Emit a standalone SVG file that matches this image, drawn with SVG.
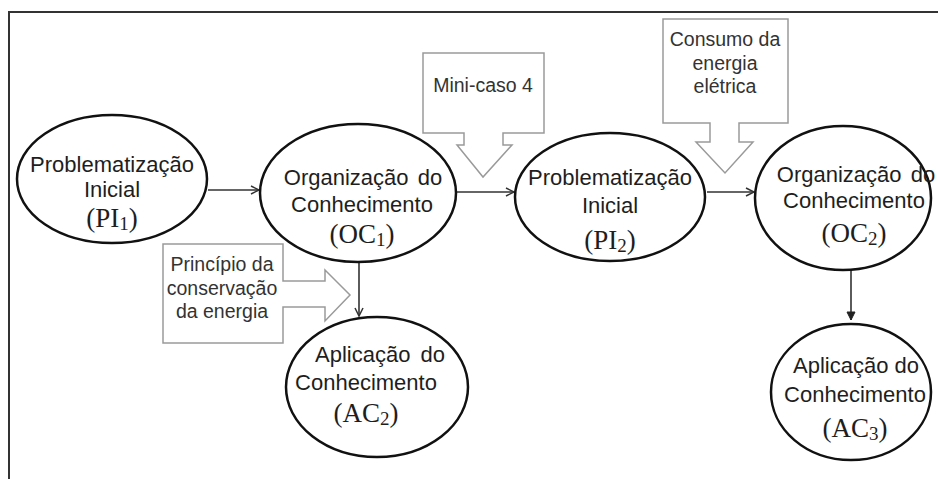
<svg xmlns="http://www.w3.org/2000/svg" width="938" height="479" viewBox="0 0 938 479">
<style>
.node{fill:#fff;stroke:#111;stroke-width:2.5}
.t{font-family:"Liberation Sans",Arial,sans-serif;font-size:22px;fill:#1e1e1e;text-anchor:middle}
.m{font-family:"Liberation Serif","DejaVu Serif",serif;font-size:27px;fill:#1e1e1e;text-anchor:middle}
.c{fill:#fff;stroke:#9a9a9a;stroke-width:1.5}
.ct{font-family:"Liberation Sans",Arial,sans-serif;font-size:19.5px;fill:#333;text-anchor:middle}
.e{fill:none;stroke:#333;stroke-width:1.6}
</style>
<defs>
<marker id="open" markerWidth="12" markerHeight="12" refX="9" refY="5" orient="auto" markerUnits="userSpaceOnUse">
<path d="M1,1 L9,5 L1,9" fill="none" stroke="#333" stroke-width="1.5"/>
</marker>
<marker id="fill" markerWidth="12" markerHeight="12" refX="9" refY="5" orient="auto" markerUnits="userSpaceOnUse">
<path d="M1,1 L9,5 L1,9 Z" fill="#222" stroke="#222" stroke-width="1"/>
</marker>
</defs>
<rect width="938" height="479" fill="#fff"/>
<path d="M9,479 L9,12 L938,12" fill="none" stroke="#333" stroke-width="2"/>

<g id="connectors">
<line class="e" x1="208" y1="190" x2="259" y2="190" marker-end="url(#open)"/>
<line class="e" x1="457" y1="192" x2="514" y2="192" marker-end="url(#open)"/>
<line class="e" x1="707" y1="192" x2="754" y2="192" marker-end="url(#open)"/>
<line class="e" x1="359" y1="263" x2="359" y2="316" marker-end="url(#open)"/>
<line class="e" x1="851" y1="271" x2="851" y2="320" marker-end="url(#fill)"/>
</g>

<g id="callout-minicaso">
<path class="c" d="M423,53 L544,53 L544,133 L503,133 L503,145 L512,145 L483,177 L457,145 L464,145 L464,133 L423,133 Z"/>
<text class="ct" x="483" y="92">Mini-caso 4</text>
</g>
<g id="callout-consumo">
<path class="c" d="M663,19 L788,19 L788,123 L739,123 L739,142 L753,142 L725,173 L696,142 L710,142 L710,123 L663,123 Z"/>
<text class="ct" x="725" y="46">Consumo da</text>
<text class="ct" x="725" y="70">energia</text>
<text class="ct" x="725" y="93">elétrica</text>
</g>
<g id="callout-principio">
<path class="c" d="M163,244 L283,244 L283,281 L325,281 L325,270 L350,295 L325,321 L325,307 L283,307 L283,343 L163,343 Z"/>
<text class="ct" x="222" y="271">Princípio da</text>
<text class="ct" x="222" y="295">conservação</text>
<text class="ct" x="222" y="318">da energia</text>
</g>

<g id="pi1">
<ellipse class="node" cx="112" cy="179" rx="95" ry="64"/>
<text class="t" x="112" y="172">Problematização</text>
<text class="t" x="112" y="197">Inicial</text>
<text class="m" x="112" y="227">(PI<tspan font-size="19" dy="3">1</tspan><tspan dy="-3">)</tspan></text>
</g>
<g id="oc1">
<ellipse class="node" cx="358" cy="193" rx="98" ry="69"/>
<text class="t" x="363" y="185" word-spacing="3">Organização do</text>
<text class="t" x="362" y="212">Conhecimento</text>
<text class="m" x="362" y="243">(OC<tspan font-size="19" dy="3">1</tspan><tspan dy="-3">)</tspan></text>
</g>
<g id="pi2">
<ellipse class="node" cx="610" cy="197" rx="95" ry="64"/>
<text class="t" x="610" y="185">Problematização</text>
<text class="t" x="610" y="213">Inicial</text>
<text class="m" x="610" y="249">(PI<tspan font-size="19" dy="3">2</tspan><tspan dy="-3">)</tspan></text>
</g>
<g id="oc2">
<ellipse class="node" cx="843" cy="198" rx="88" ry="72"/>
<text class="t" x="856" y="182" word-spacing="3">Organização do</text>
<text class="t" x="854" y="208">Conhecimento</text>
<text class="m" x="854" y="242">(OC<tspan font-size="19" dy="3">2</tspan><tspan dy="-3">)</tspan></text>
</g>
<g id="ac2">
<ellipse class="node" cx="377" cy="387" rx="91" ry="70"/>
<text class="t" x="380" y="362" word-spacing="4">Aplicação do</text>
<text class="t" x="366" y="390">Conhecimento</text>
<text class="m" x="366" y="422">(AC<tspan font-size="19" dy="3">2</tspan><tspan dy="-3">)</tspan></text>
</g>
<g id="ac3">
<ellipse class="node" cx="851" cy="392" rx="80" ry="68"/>
<text class="t" x="856" y="373">Aplicação do</text>
<text class="t" x="855" y="402">Conhecimento</text>
<text class="m" x="855" y="437">(AC<tspan font-size="19" dy="3">3</tspan><tspan dy="-3">)</tspan></text>
</g>
</svg>
